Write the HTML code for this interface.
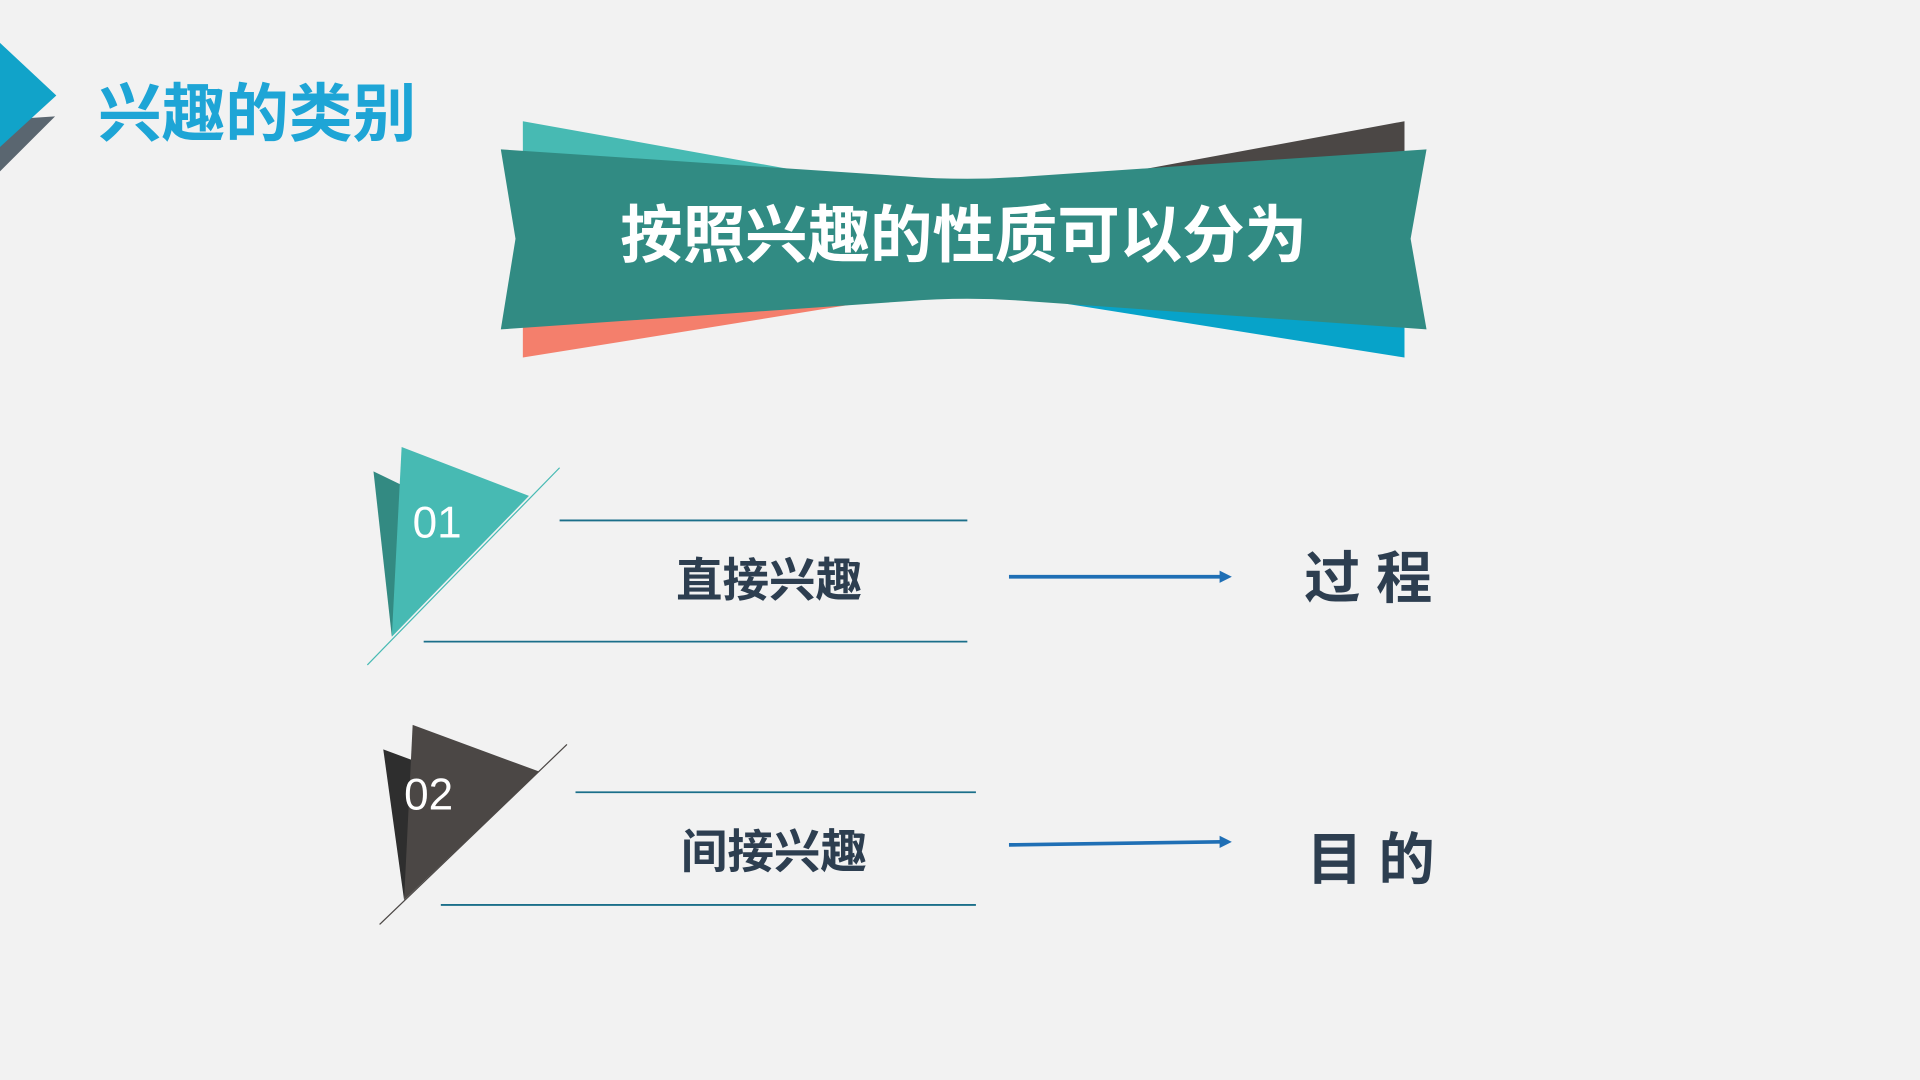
<!DOCTYPE html>
<html><head><meta charset="utf-8"><style>
html,body{margin:0;padding:0;background:#f2f2f2;}
svg{display:block;}
text{font-family:"Liberation Sans","Noto Sans CJK SC",sans-serif;}
</style></head><body>
<svg width="1920" height="1080" viewBox="0 0 1568 882" preserveAspectRatio="none" xmlns="http://www.w3.org/2000/svg">
<rect width="1568" height="882" fill="#f2f2f2"/>
<polygon points="0,98 45,95 0,140" fill="#5a6670"/>
<polygon points="0,35 46,78 0,120" fill="#11a3c9"/>
<text x="80" y="111" font-size="52" font-weight="bold" fill="#1ea5d6">兴趣的类别</text>
<polygon points="427,99 700,148 427,142" fill="#47bab3"/>
<polygon points="1147,99 870,150 1147,142" fill="#4b4745"/>
<polygon points="427,292 700,248 427,262" fill="#f47f6c"/>
<polygon points="1147,292 870,248 1147,262" fill="#07a3c9"/>
<path d="M409,122 L740,144 Q790,148 840,144 L1165,122 L1152,195 L1165,269 L840,246 Q790,242 740,246 L409,269 L421,195 Z" fill="#318b83"/>
<text x="787" y="210" font-size="51" font-weight="bold" fill="#fff" text-anchor="middle">按照兴趣的性质可以分为</text>

<polygon points="305,385 332,398 320,520" fill="#338a82"/>
<polygon points="328,365 432,405 320,520" fill="#47bab3"/>
<line x1="457" y1="382" x2="300" y2="543" stroke="#47bab3" stroke-width="1"/>
<line x1="457" y1="425" x2="790" y2="425" stroke="#1b6f8a" stroke-width="1.5"/>
<line x1="346" y1="524" x2="790" y2="524" stroke="#1b6f8a" stroke-width="1.5"/>
<text x="337" y="439" font-size="36" fill="#fff">01</text>
<text x="628" y="487" font-size="38" font-weight="bold" fill="#2d3e50" text-anchor="middle">直接兴趣</text>
<line x1="824" y1="471" x2="998" y2="471" stroke="#1f6fb5" stroke-width="3"/>
<polygon points="996,466 1006,471 996,476" fill="#1f6fb5"/>
<text x="1065" y="488" font-size="46" font-weight="bold" fill="#2d3e50">过 程</text>

<polygon points="313,612 340,622 330,735" fill="#2e2e2e"/>
<polygon points="337,592 440,630 330,735" fill="#4b4745"/>
<line x1="463" y1="608" x2="310" y2="755" stroke="#4b4745" stroke-width="1"/>
<line x1="470" y1="647" x2="797" y2="647" stroke="#1b6f8a" stroke-width="1.5"/>
<line x1="360" y1="739" x2="797" y2="739" stroke="#1b6f8a" stroke-width="1.5"/>
<text x="330" y="661" font-size="36" fill="#fff">02</text>
<text x="632" y="709" font-size="38" font-weight="bold" fill="#2d3e50" text-anchor="middle">间接兴趣</text>
<line x1="824" y1="690" x2="998" y2="687.5" stroke="#1f6fb5" stroke-width="3"/>
<polygon points="996,682.5 1006,687.5 996,692.5" fill="#1f6fb5"/>
<text x="1067" y="718" font-size="46" font-weight="bold" fill="#2d3e50">目 的</text>
</svg>
</body></html>
